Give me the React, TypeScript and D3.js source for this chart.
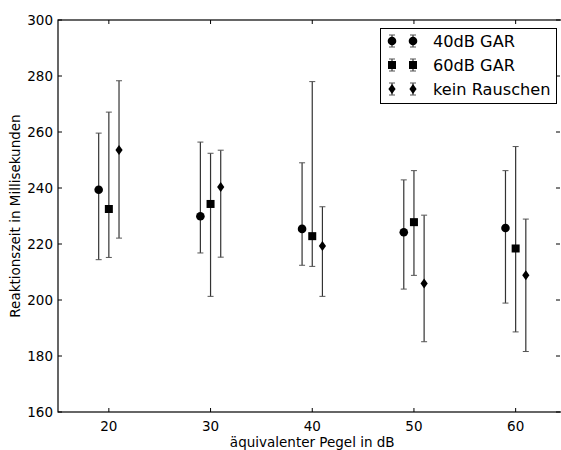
import React, { useEffect, useRef } from 'react';
import * as d3 from 'd3';

const levels = [20, 30, 40, 50, 60];
const seriesNames = ['40dB GAR', '60dB GAR', 'kein Rauschen'];
const offsets = [-1, 0, 1];
const markers = ['circle', 'square', 'diamond'];

const gar40Mean = [239.4, 229.9, 225.4, 224.2, 225.7];
const gar40Low = [214.4, 216.8, 212.4, 203.9, 198.9];
const gar40High = [259.6, 256.4, 249.0, 242.9, 246.2];

const gar60Mean = [232.5, 234.3, 222.8, 227.8, 218.4];
const gar60Low = [215.2, 201.3, 212.0, 208.8, 188.6];
const gar60High = [267.1, 252.4, 278.0, 246.2, 254.8];

const quietMean = [253.6, 240.4, 219.3, 205.9, 208.8];
const quietLow = [222.1, 215.3, 201.3, 185.1, 181.6];
const quietHigh = [278.3, 253.5, 233.3, 230.3, 228.9];

const yTicks = [160, 180, 200, 220, 240, 260, 280, 300];

const W = 561;
const H = 450;
const FONT = 'DejaVu Sans, sans-serif';

const App = () => {
    const ref = useRef<SVGSVGElement>(null);

    useEffect(() => {
        if (!ref.current) return;
        const svg = d3.select(ref.current);
        svg.selectAll('*').remove();

        const left = 58, top = 20, bottom = 412;
        const x = d3.scaleLinear().domain([15, 65]).range([left, 566.5]);
        const y = d3.scaleLinear().domain([160, 300]).range([bottom, top]);
        const right = x(65);

        const series = [
            { mean: gar40Mean, low: gar40Low, high: gar40High },
            { mean: gar60Mean, low: gar60Low, high: gar60High },
            { mean: quietMean, low: quietLow, high: quietHigh }
        ];

        const drawMarker = (g: any, kind: string, cx: number, cy: number) => {
            if (kind === 'circle') {
                g.append('circle').attr('cx', cx).attr('cy', cy).attr('r', 4.3).attr('fill', '#000');
            } else if (kind === 'square') {
                g.append('rect').attr('x', cx - 4).attr('y', cy - 4).attr('width', 8).attr('height', 8).attr('fill', '#000');
            } else {
                g.append('path')
                    .attr('d', `M${cx},${cy - 5}L${cx + 3.6},${cy}L${cx},${cy + 5}L${cx - 3.6},${cy}Z`)
                    .attr('fill', '#000');
            }
        };

        const drawBar = (g: any, cx: number, y1: number, y2: number) => {
            g.append('line').attr('x1', cx).attr('x2', cx).attr('y1', y1).attr('y2', y2)
                .attr('stroke', '#333').attr('stroke-width', 1.2);
            [y1, y2].forEach(yy => {
                g.append('line').attr('x1', cx - 3).attr('x2', cx + 3).attr('y1', yy).attr('y2', yy)
                    .attr('stroke', '#555').attr('stroke-width', 1);
            });
        };

        const plot = svg.append('g');
        series.forEach((s, si) => {
            levels.forEach((lv, i) => {
                const cx = x(lv + offsets[si]);
                drawBar(plot, cx, y(s.high[i]), y(s.low[i]));
                drawMarker(plot, markers[si], cx, y(s.mean[i]));
            });
        });

        // frame
        svg.append('rect').attr('x', left).attr('y', top).attr('width', right - left).attr('height', bottom - top)
            .attr('fill', 'none').attr('stroke', '#000').attr('stroke-width', 1.2);

        // ticks (inside, all sides)
        const tickLen = 4;
        levels.forEach(v => {
            svg.append('line').attr('x1', x(v)).attr('x2', x(v)).attr('y1', bottom).attr('y2', bottom - tickLen).attr('stroke', '#000');
            svg.append('line').attr('x1', x(v)).attr('x2', x(v)).attr('y1', top).attr('y2', top + tickLen).attr('stroke', '#000');
            svg.append('text').attr('x', x(v)).attr('y', bottom + 19).attr('text-anchor', 'middle')
                .attr('font-family', FONT).attr('font-size', 13.5).attr('fill', '#000').text(v);
        });
        yTicks.forEach(v => {
            svg.append('line').attr('x1', left).attr('x2', left + tickLen).attr('y1', y(v)).attr('y2', y(v)).attr('stroke', '#000');
            svg.append('line').attr('x1', 560).attr('x2', 560 - tickLen).attr('y1', y(v)).attr('y2', y(v)).attr('stroke', '#000');
            svg.append('text').attr('x', left - 5).attr('y', y(v) + 5).attr('text-anchor', 'end')
                .attr('font-family', FONT).attr('font-size', 13.5).attr('fill', '#000').text(v);
        });

        // axis labels
        svg.append('text').attr('x', (left + right) / 2 - 0).attr('y', 447).attr('text-anchor', 'middle')
            .attr('font-family', FONT).attr('font-size', 13.5).attr('fill', '#000').text('äquivalenter Pegel in dB');
        svg.append('text').attr('transform', `translate(20,${(top + bottom) / 2}) rotate(-90)`).attr('text-anchor', 'middle')
            .attr('font-family', FONT).attr('font-size', 13.5).attr('fill', '#000').text('Reaktionszeit in Millisekunden');

        // legend
        const lg = svg.append('g');
        lg.append('rect').attr('x', 380.5).attr('y', 28.5).attr('width', 176).attr('height', 75)
            .attr('fill', '#fff').attr('stroke', '#000').attr('stroke-width', 1);
        seriesNames.forEach((name, si) => {
            const cy = 41 + si * 24;
            [392, 413].forEach(cx => {
                drawBar(lg, cx, cy - 6, cy + 6);
                drawMarker(lg, markers[si], cx, cy);
            });
            lg.append('text').attr('x', 433).attr('y', cy + 6).attr('font-family', FONT).attr('font-size', 16.2)
                .attr('fill', '#000').text(name);
        });
    }, []);

    return (
        <svg ref={ref} width={W} height={H} style={{ position: 'absolute', left: 0, top: 0, background: '#fff' }} />
    );
};

export default App;
